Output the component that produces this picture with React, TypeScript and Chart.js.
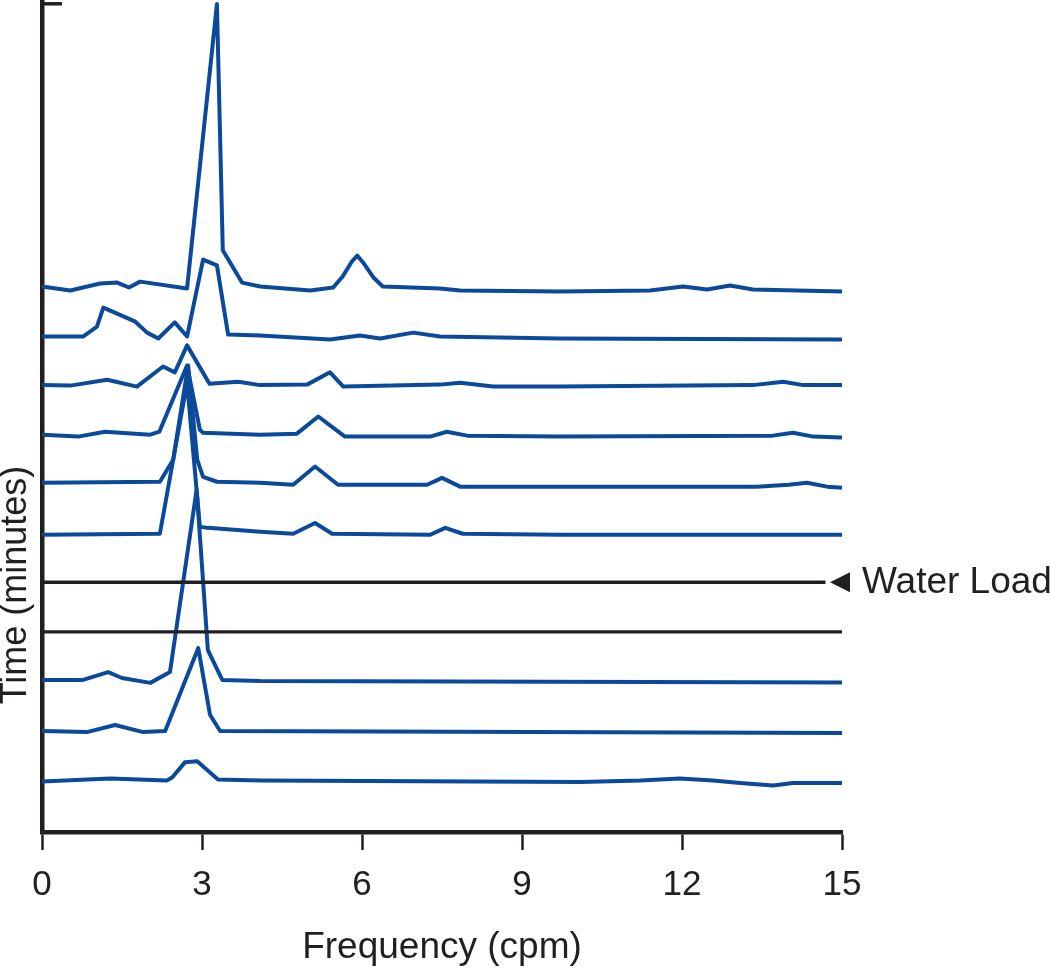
import React, { useEffect, useRef } from "react";
import { Chart, registerables } from "chart.js";

Chart.register(...registerables);

// ---- text ----
const X_TICKS = [0, 3, 6, 9, 12, 15];
const X_TITLE = "Frequency (cpm)";
const Y_TITLE = "Time (minutes)";
const MARKER_LABEL = "Water Load";
const MARKER_TRACE = 6; // index (top first) of the trace marked "Water Load"

// ---- trace baselines (time position, arbitrary units), top trace first ----
const traceOffsets = [110.4, 100.9, 91.1, 80.8, 70.8, 60.6, 50.9, 40.8, 30.8, 20.4, 10.3];

// ---- spectra: frequency (cpm) and power (arbitrary units) ----
const t1Freq = [0, 0.53, 1.09, 1.41, 1.63, 1.84, 2.72, 3.28, 3.39, 3.75, 4.09, 5.03, 5.46, 5.64, 5.81, 5.91, 6.02, 6.21, 6.39, 7.46, 7.84, 9.71, 11.4, 12.02, 12.47, 12.9, 13.33, 15];
const t1Power = [0.8, 0, 1.4, 1.6, 0.6, 1.8, 0.4, 58.4, 8.2, 1.6, 0.8, 0, 0.6, 2.9, 5.9, 7.1, 5.7, 2.7, 0.8, 0.4, 0, -0.2, 0, 0.8, 0.2, 1.0, 0.2, -0.2];

const t2Freq = [0, 0.77, 1.03, 1.15, 1.74, 1.97, 2.18, 2.49, 2.72, 3.02, 3.28, 3.49, 4.09, 5.4, 5.96, 6.34, 6.96, 7.46, 9.71, 15];
const t2Power = [0.1, 0.1, 2.1, 6.0, 3.2, 0.9, -0.3, 3.0, 0.1, 15.8, 14.6, 0.5, 0.3, -0.5, 0.3, -0.3, 0.9, 0.1, -0.3, -0.5];

const t3Freq = [0, 0.53, 1.22, 1.78, 2.27, 2.49, 2.72, 3.14, 3.68, 4.09, 4.97, 5.4, 5.65, 7.46, 7.84, 8.46, 9.71, 13.33, 13.9, 14.27, 15];
const t3Power = [0, -0.1, 1.1, -0.3, 3.8, 2.6, 8.1, 0.3, 0.7, 0, 0.1, 2.6, -0.3, 0.1, 0.5, -0.3, -0.3, 0, 0.7, 0, 0];

const t4Freq = [0, 0.68, 1.18, 2.03, 2.2, 2.72, 2.96, 3.02, 4.09, 4.78, 5.18, 5.68, 7.28, 7.59, 7.97, 9.71, 13.7, 14.08, 14.46, 15];
const t4Power = [0.2, -0.2, 0.8, 0.2, 0.8, 14.3, 1.2, 0.6, 0.2, 0.4, 3.9, -0.2, -0.2, 0.8, 0, -0.2, 0, 0.6, -0.2, -0.4];

const t5Freq = [0, 2.21, 2.46, 2.74, 2.91, 3.02, 3.28, 4.09, 4.71, 5.12, 5.55, 7.22, 7.5, 7.84, 9.71, 13.4, 14.0, 14.34, 14.72, 15];
const t5Power = [0.4, 0.6, 5.1, 24.3, 5.1, 1.6, 0.6, 0.4, 0, 3.7, 0, 0, 1.4, -0.4, -0.4, -0.4, 0, 0.4, -0.4, -0.6];

const t6Freq = [0, 2.21, 2.72, 2.96, 3.11, 4.09, 4.71, 5.12, 5.44, 7.28, 7.56, 7.89, 9.71, 15];
const t6Power = [0, 0.2, 31, 1.6, 1.4, 0.6, 0.2, 2.4, 0.2, 0, 1.4, 0.2, 0, 0];

const t7Freq = [0, 14.69];
const t7Power = [0, 0];

const t8Freq = [0, 15];
const t8Power = [0, 0];

const t9Freq = [0, 0.77, 1.24, 1.5, 2.03, 2.4, 2.9, 3.11, 3.38, 4.09, 15];
const t9Power = [0.2, 0.2, 1.8, 0.6, -0.4, 1.8, 39, 6.3, 0.2, 0, -0.3];

const t10Freq = [0, 0.86, 1.37, 1.88, 2.31, 2.93, 3.15, 3.34, 15];
const t10Power = [0.2, 0, 1.4, 0, 0.2, 17.1, 3.5, 0.2, -0.2];

const t11Freq = [0, 1.28, 2.34, 2.44, 2.68, 2.91, 3.3, 4.09, 10.1, 11.22, 11.96, 12.58, 13.09, 13.71, 14.08, 15];
const t11Power = [0, 0.6, 0.2, 0.8, 3.9, 4.1, 0.4, 0.2, -0.1, 0.2, 0.6, 0.2, -0.3, -0.8, -0.3, -0.3];

const traceFreqs = [t1Freq, t2Freq, t3Freq, t4Freq, t5Freq, t6Freq, t7Freq, t8Freq, t9Freq, t10Freq, t11Freq];
const tracePowers = [t1Power, t2Power, t3Power, t4Power, t5Power, t6Power, t7Power, t8Power, t9Power, t10Power, t11Power];

const BLUE = "#0b4a9b";
const INK = "#231f20";
const traceColors = [BLUE, BLUE, BLUE, BLUE, BLUE, BLUE, INK, INK, BLUE, BLUE, BLUE];

const FONT_FAMILY = '"Liberation Sans", Arial, Helvetica, sans-serif';
const Y_MAX = 169.2;

const decorPlugin = {
  id: "decor",
  afterDraw(chart: any) {
    const { ctx, chartArea, scales } = chart;
    const xs = scales.x;
    const ys = scales.y;
    ctx.save();
    // small inward tick at the top of the time axis
    ctx.strokeStyle = INK;
    ctx.lineWidth = 3.5;
    ctx.beginPath();
    ctx.moveTo(chartArea.left - 2, chartArea.top + 1.8);
    ctx.lineTo(chartArea.left + 20, chartArea.top + 1.8);
    ctx.stroke();

    // Water Load marker
    const yy = ys.getPixelForValue(traceOffsets[MARKER_TRACE]);
    const xx = xs.getPixelForValue(15);
    ctx.fillStyle = INK;
    ctx.beginPath();
    ctx.moveTo(xx - 12, yy);
    ctx.lineTo(xx + 8, yy - 10);
    ctx.lineTo(xx + 8, yy + 10);
    ctx.closePath();
    ctx.fill();
    ctx.font = `37px ${FONT_FAMILY}`;
    ctx.textBaseline = "middle";
    ctx.textAlign = "left";
    ctx.fillText(MARKER_LABEL, xx + 20, yy);

    // y title
    ctx.font = `36px ${FONT_FAMILY}`;
    ctx.translate(16, 585);
    ctx.rotate(-Math.PI / 2);
    ctx.textAlign = "center";
    ctx.fillText(Y_TITLE, 0, 0);
    ctx.restore();
  },
};

export default function App() {
  const canvasRef = useRef<HTMLCanvasElement | null>(null);

  useEffect(() => {
    const canvas = canvasRef.current;
    if (!canvas) return;
    const datasets = traceFreqs.map((freqs, i) => ({
      label: `trace ${i + 1}`,
      data: freqs.map((f, j) => ({ x: f, y: traceOffsets[i] + tracePowers[i][j] })),
      borderColor: traceColors[i],
      backgroundColor: traceColors[i],
      borderWidth: traceColors[i] === INK ? 3.4 : 4,
      borderJoinStyle: "round" as const,
      pointRadius: 0,
      tension: 0,
      fill: false,
      clip: false as any,
    }));

    const chart = new Chart(canvas, {
      type: "line",
      data: { datasets },
      plugins: [decorPlugin],
      options: {
        animation: false,
        responsive: false,
        devicePixelRatio: 1,
        layout: { padding: { top: 2, right: 208, left: 0, bottom: 0 } },
        plugins: { legend: { display: false }, tooltip: { enabled: false } },
        scales: {
          x: {
            type: "linear",
            min: 0,
            max: 15,
            afterBuildTicks: (s: any) => {
              s.ticks = X_TICKS.map((v) => ({ value: v }));
            },
            afterFit: (s: any) => {
              s.height = 138;
            },
            ticks: {
              autoSkip: false,
              maxRotation: 0,
              padding: 14,
              color: INK,
              font: { family: FONT_FAMILY, size: 35 },
              callback: (v: any) => String(v),
            },
            grid: {
              drawOnChartArea: false,
              drawTicks: true,
              tickLength: 18,
              tickWidth: 2.5,
              tickColor: INK,
            },
            border: { display: true, color: INK, width: 4.5 },
            title: {
              display: true,
              text: X_TITLE,
              color: INK,
              font: { family: FONT_FAMILY, size: 37 },
              padding: { top: 0, bottom: 0 },
            },
          },
          y: {
            type: "linear",
            min: 0,
            max: Y_MAX,
            afterFit: (s: any) => {
              s.width = 42;
            },
            ticks: { display: false },
            grid: { display: false, drawTicks: false },
            border: { display: true, color: INK, width: 4.5 },
          },
        },
      },
    });
    return () => chart.destroy();
  }, []);

  return (
    <div style={{ position: "absolute", left: 0, top: 0, width: 1050, height: 970, background: "#fff" }}>
      <canvas ref={canvasRef} width={1050} height={970} style={{ display: "block" }} />
    </div>
  );
}
